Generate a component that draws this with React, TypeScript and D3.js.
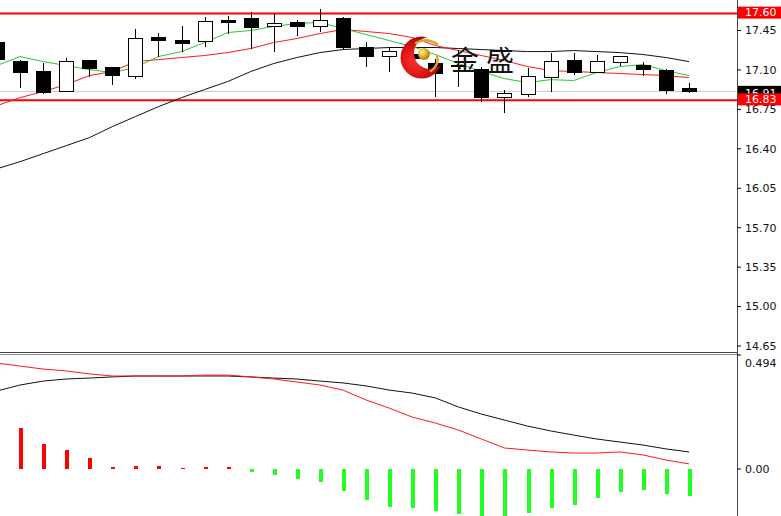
import * as d3 from 'd3';

// candle data (one entry per bar, oldest first)
const opens = [17.343, 17.174, 17.086, 16.908, 17.183, 17.121, 17.041, 17.388, 17.361, 17.352, 17.539, 17.557, 17.486, 17.521, 17.486, 17.557, 17.299, 17.219, 17.24, 17.157, 17.14, 17.103, 16.854, 16.881, 17.032, 17.183, 17.077, 17.166, 17.139, 17.094, 16.934];
const highs = [17.37, 17.192, 17.166, 17.21, 17.183, 17.13, 17.459, 17.432, 17.486, 17.574, 17.583, 17.61, 17.592, 17.539, 17.637, 17.574, 17.352, 17.308, 17.3, 17.2, 17.28, 17.13, 16.926, 17.121, 17.246, 17.254, 17.237, 17.219, 17.174, 17.112, 16.988];
const lows = [17.17, 16.943, 16.89, 16.908, 17.041, 16.97, 17.023, 17.219, 17.263, 17.308, 17.423, 17.29, 17.263, 17.397, 17.441, 17.29, 17.13, 17.086, 17.13, 16.863, 16.952, 16.819, 16.721, 16.863, 16.908, 17.059, 17.077, 17.139, 17.05, 16.89, 16.899];
const closes = [17.192, 17.077, 16.899, 17.174, 17.112, 17.05, 17.379, 17.361, 17.334, 17.53, 17.52, 17.477, 17.512, 17.486, 17.539, 17.299, 17.219, 17.263, 17.2, 17.068, 17.13, 16.854, 16.89, 17.041, 17.174, 17.077, 17.174, 17.219, 17.103, 16.917, 16.908];

// moving averages
const maFast = [17.139, 17.219, 17.174, 17.139, 17.103, 17.077, 17.121, 17.219, 17.263, 17.343, 17.432, 17.45, 17.486, 17.512, 17.521, 17.468, 17.414, 17.361, 17.308, 17.237, 17.157, 17.086, 17.023, 16.988, 17.014, 17.006, 17.077, 17.13, 17.148, 17.094, 17.05];
const maMid = [16.783, 16.854, 16.908, 16.97, 17.05, 17.086, 17.174, 17.192, 17.21, 17.228, 17.254, 17.29, 17.343, 17.379, 17.423, 17.459, 17.441, 17.423, 17.388, 17.317, 17.272, 17.228, 17.183, 17.13, 17.094, 17.086, 17.077, 17.068, 17.059, 17.05, 17.032];
const maSlow = [16.223, 16.286, 16.357, 16.428, 16.499, 16.597, 16.686, 16.774, 16.854, 16.926, 16.997, 17.086, 17.157, 17.21, 17.254, 17.281, 17.29, 17.299, 17.299, 17.299, 17.29, 17.281, 17.272, 17.263, 17.263, 17.272, 17.263, 17.254, 17.237, 17.21, 17.174];

// MACD panel
const macdHist = [0.2, 0.178, 0.108, 0.082, 0.048, 0.01, 0.015, 0.015, 0.004, 0.008, 0.008, -0.014, -0.025, -0.043, -0.055, -0.094, -0.133, -0.165, -0.169, -0.182, -0.195, -0.204, -0.204, -0.19, -0.169, -0.156, -0.126, -0.1, -0.091, -0.108, -0.117];
const macdLine = [0.338, 0.364, 0.381, 0.39, 0.394, 0.399, 0.403, 0.403, 0.403, 0.403, 0.403, 0.399, 0.394, 0.39, 0.381, 0.373, 0.36, 0.342, 0.329, 0.308, 0.269, 0.238, 0.212, 0.186, 0.165, 0.147, 0.13, 0.117, 0.104, 0.087, 0.074];
const signalLine = [0.459, 0.446, 0.433, 0.425, 0.412, 0.403, 0.403, 0.403, 0.403, 0.407, 0.407, 0.399, 0.39, 0.377, 0.364, 0.342, 0.299, 0.264, 0.225, 0.199, 0.169, 0.13, 0.091, 0.082, 0.074, 0.069, 0.069, 0.074, 0.061, 0.039, 0.022];

const priceTicks = [17.45, 17.1, 16.75, 16.4, 16.05, 15.7, 15.35, 15.0, 14.65];
const levels = [17.6, 16.83];
const lastPrice = 16.91;
const macdTop = 0.494;

const W = 781;
const H = 516;
const axisX = 737;

const App = () => {
  const x = d3.scaleLinear().domain([0, opens.length - 1]).range([-3, 689]);
  const y = d3.scaleLinear().domain([14.65, 17.45]).range([346, 30.5]);
  const ym = d3.scaleLinear().domain([0, macdTop]).range([469, 355]);

  const priceLine = d3
    .line<number>()
    .x((_, i) => x(i))
    .y((d) => y(d));
  const macdPath = d3
    .line<number>()
    .x((_, i) => x(i))
    .y((d) => ym(d));

  const font = 'DejaVu Sans, sans-serif';

  return (
    <svg
      width={W}
      height={H}
      style={{ position: 'absolute', left: 0, top: 0, background: '#fff' }}
    >
      <defs>
        <clipPath id="mainClip">
          <rect x={0} y={0} width={axisX} height={352} />
        </clipPath>
        <clipPath id="macdClip">
          <rect x={0} y={355} width={axisX} height={H - 355} />
        </clipPath>
        <mask id="crescent">
          <rect x={380} y={20} width={90} height={80} fill="#fff" />
          <circle cx={430} cy={53} r={16} fill="#000" />
        </mask>
        <radialGradient id="redGlow" cx="0.35" cy="0.6" r="0.7">
          <stop offset="0" stopColor="#ff3030" />
          <stop offset="0.6" stopColor="#d01010" />
          <stop offset="1" stopColor="#8a0606" />
        </radialGradient>
        <radialGradient id="gold" cx="0.35" cy="0.35" r="0.7">
          <stop offset="0" stopColor="#fff2a0" />
          <stop offset="0.5" stopColor="#e0b32a" />
          <stop offset="1" stopColor="#a87a10" />
        </radialGradient>
      </defs>

      {/* main price panel */}
      <g clipPath="url(#mainClip)">
        <line
          x1={0}
          x2={axisX}
          y1={y(lastPrice)}
          y2={y(lastPrice)}
          stroke="#c8c8c8"
          strokeWidth={1}
        />
        {levels.map((v) => (
          <line key={v} x1={0} x2={axisX} y1={y(v)} y2={y(v)} stroke="#ff0000" strokeWidth={2} />
        ))}

        <path d={priceLine(maSlow) || ''} fill="none" stroke="#111" strokeWidth={1} />
        <path d={priceLine(maMid) || ''} fill="none" stroke="#ff1a1a" strokeWidth={1} />
        <path d={priceLine(maFast) || ''} fill="none" stroke="#2ec82e" strokeWidth={1} />

        {opens.map((o, i) => {
          const c = closes[i];
          const cx = Math.round(x(i)) + 0.5;
          const top = y(Math.max(o, c));
          const bot = y(Math.min(o, c));
          const up = c >= o;
          return (
            <g key={i} shapeRendering="crispEdges">
              <line x1={cx} x2={cx} y1={y(highs[i])} y2={y(lows[i])} stroke="#000" strokeWidth={1} />
              <rect
                x={cx - 7}
                y={top}
                width={14}
                height={Math.max(1, bot - top)}
                fill={up ? '#fff' : '#000'}
                stroke="#000"
                strokeWidth={1}
              />
            </g>
          );
        })}

        {/* watermark logo */}
        <circle cx={421.5} cy={57.5} r={21} fill="url(#redGlow)" mask="url(#crescent)" />
        <circle cx={424} cy={54} r={6} fill="url(#gold)" />
        <path d="M416,43 Q426,37 437,44" fill="none" stroke="#d9a826" strokeWidth={2.5} strokeLinecap="round" />
        <path d="M437,56 Q440,64 431,71" fill="none" stroke="#d9a826" strokeWidth={2.5} strokeLinecap="round" />
        <text
          x={451}
          y={71}
          fontFamily="Noto Sans CJK SC, sans-serif"
          fontSize={28}
          fontWeight={400}
          fill="#111"
          letterSpacing={7}
        >
          金盛
        </text>
      </g>

      {/* MACD panel */}
      <g clipPath="url(#macdClip)">
        {macdHist.map((v, i) => (
          <rect
            key={i}
            x={Math.round(x(i)) - 1.5}
            y={v >= 0 ? ym(v) : ym(0)}
            width={4}
            height={Math.max(1, Math.abs(ym(v) - ym(0)))}
            fill={v >= 0 ? '#ff0000' : '#22ff22'}
            shapeRendering="crispEdges"
          />
        ))}
        <path d={macdPath(macdLine) || ''} fill="none" stroke="#111" strokeWidth={1} />
        <path d={macdPath(signalLine) || ''} fill="none" stroke="#ff1a1a" strokeWidth={1} />
      </g>

      {/* frame */}
      <g shapeRendering="crispEdges" stroke="#444">
        <line x1={axisX + 0.5} x2={axisX + 0.5} y1={0} y2={H} />
        <line x1={0} x2={axisX} y1={352.5} y2={352.5} />
        <line x1={0} x2={axisX} y1={354.5} y2={354.5} stroke="#888" />
      </g>

      {/* price axis */}
      {priceTicks.map((t) => (
        <g key={t}>
          <line x1={axisX} x2={axisX + 4} y1={y(t)} y2={y(t)} stroke="#000" />
          <text x={745} y={y(t)} dy="0.35em" fontFamily={font} fontSize={11} fill="#111">
            {t.toFixed(2)}
          </text>
        </g>
      ))}

      {/* last price tag, partly covered by the level tag as in the source */}
      <rect x={axisX + 1} y={y(lastPrice) - 5.5} width={W - axisX} height={12} fill="#000" />
      <text x={745} y={y(lastPrice) + 1.5} dy="0.35em" fontFamily={font} fontSize={11} fill="#fff">
        {lastPrice.toFixed(2)}
      </text>
      {levels.map((v) => (
        <g key={v}>
          <rect x={axisX + 1} y={y(v) - 7} width={W - axisX} height={12} fill="#ff0000" />
          <text x={745} y={y(v) - 1} dy="0.35em" fontFamily={font} fontSize={11} fill="#fff">
            {v.toFixed(2)}
          </text>
        </g>
      ))}

      {/* MACD axis */}
      <line x1={axisX} x2={axisX + 4} y1={ym(macdTop)} y2={ym(macdTop)} stroke="#000" />
      <text x={745} y={ym(macdTop) + 8} dy="0.35em" fontFamily={font} fontSize={11} fill="#111">
        {macdTop.toFixed(3)}
      </text>
      <line x1={axisX} x2={axisX + 4} y1={ym(0)} y2={ym(0)} stroke="#000" />
      <text x={745} y={ym(0)} dy="0.35em" fontFamily={font} fontSize={11} fill="#111">
        0.00
      </text>
    </svg>
  );
};

export default App;
